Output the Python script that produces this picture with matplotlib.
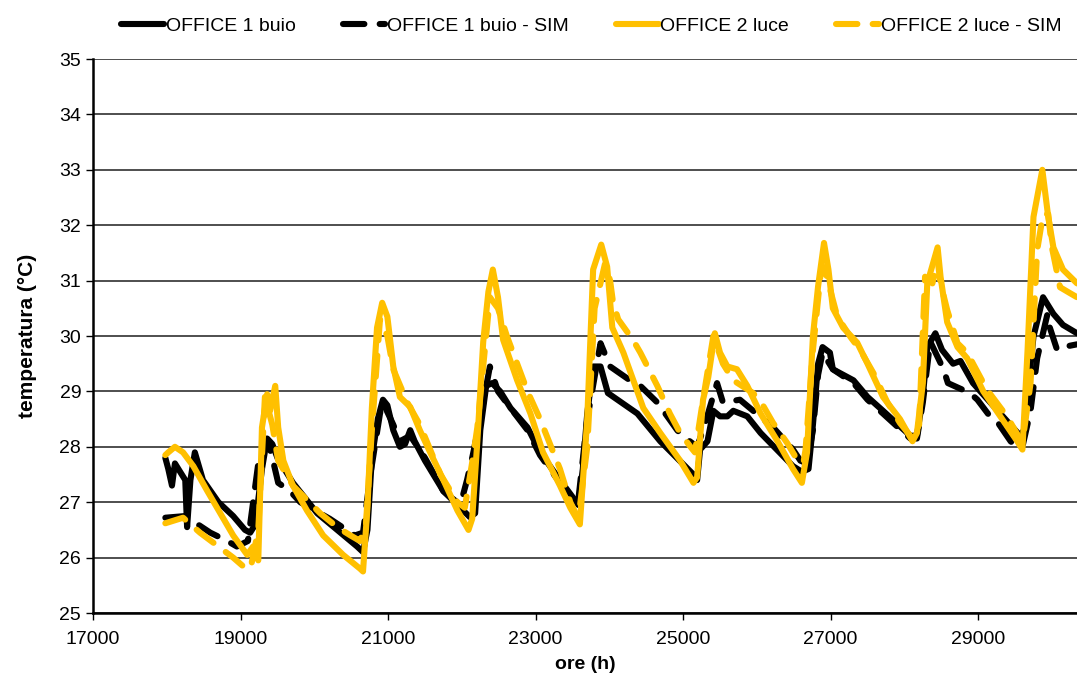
import matplotlib
matplotlib.use('Agg')
import matplotlib.pyplot as plt

plt.rcParams['font.family'] = ['Liberation Sans Narrow', 'Liberation Sans', 'DejaVu Sans']

# OFFICE 1 buio (misurato)
off1_x = [17980, 18020, 18070, 18110, 18180, 18250, 18275, 18320, 18380, 18490, 18700, 18900,
          19060, 19130, 19200, 19290, 19360, 19430, 19500, 19710, 20040, 20310, 20580, 20660,
          20720, 20780, 20860, 20930, 20990, 21070, 21160, 21230, 21300, 21360, 21500, 21750,
          21980, 22110, 22180, 22250, 22330, 22410, 22520, 22660, 22890, 23060, 23330, 23470,
          23580, 23640, 23700, 23780, 23880, 23980, 24380, 24690, 25140, 25190, 25230, 25330,
          25410, 25500, 25600, 25680, 25870, 26050, 26490, 26610, 26700, 26760, 26830, 26890,
          26990, 27030, 27310, 27500, 27710, 28080, 28170, 28250, 28310, 28420, 28510, 28660,
          28760, 28930, 29300, 29570, 29620, 29750, 29880, 30020, 30150, 30340]
off1_y = [27.8, 27.6, 27.3, 27.7, 27.55, 27.4, 26.55, 27.4, 27.9, 27.4, 27.0, 26.75,
          26.5, 26.45, 26.6, 27.6, 28.15, 28.05, 27.8, 27.35, 26.8, 26.5, 26.2, 26.1,
          26.5, 27.8, 28.5, 28.85, 28.75, 28.3, 28.0, 28.05, 28.3, 28.1, 27.75, 27.2,
          26.9, 26.73, 26.8, 28.3, 29.1, 29.15, 29.0, 28.7, 28.35, 27.9, 27.4, 27.15,
          26.95, 27.6, 28.6, 29.45, 29.45, 28.97, 28.6, 28.1, 27.5, 27.4, 27.95, 28.1,
          28.65, 28.55, 28.55, 28.65, 28.55, 28.25, 27.65, 27.55, 27.6, 28.4, 29.5, 29.8,
          29.7, 29.4, 29.2, 28.9, 28.65, 28.2, 28.2, 28.9, 29.8, 30.05, 29.75, 29.5,
          29.55, 29.15, 28.6, 28.2, 28.3, 29.99, 30.7, 30.4, 30.2, 30.05]

# OFFICE 1 buio - SIM
off1_sim_x = [17980, 18250, 18420, 18590, 18820, 18950, 19100, 19240, 19370, 19440, 19510, 19670,
              19810, 20210, 20550, 20660, 20760, 20890, 20930, 21070, 21160, 21300, 21500, 21750,
              21980, 22070, 22140, 22250, 22380, 22490, 22660, 22890, 23060, 23330, 23470, 23580,
              23700, 23880, 24010, 24280, 24420, 24650, 24920, 24990, 25190, 25270, 25460, 25540,
              25770, 26220, 26490, 26590, 26680, 26760, 26830, 26890, 27030, 27310, 27500, 27710,
              28080, 28170, 28250, 28350, 28530, 28590, 28890, 28990, 29160, 29260, 29440, 29480,
              29600, 29710, 29800, 29940, 29960, 30070, 30150, 30340]
off1_sim_y = [26.72, 26.75, 26.6, 26.45, 26.3, 26.2, 26.3, 27.7, 28.1, 27.75, 27.35, 27.2,
              27.0, 26.7, 26.4, 26.45, 27.5, 28.6, 28.8, 28.4, 28.1, 28.2, 27.8, 27.2,
              26.95, 27.4, 27.8, 28.5, 29.45, 29.0, 28.7, 28.3, 27.85, 27.35, 27.1, 27.05,
              28.5, 29.87, 29.45, 29.2, 29.1, 28.8, 28.3, 28.2, 28.0, 28.3, 29.15, 28.8,
              28.85, 28.35, 27.95, 27.75, 27.7, 28.3, 29.3, 29.7, 29.4, 29.15, 28.85, 28.6,
              28.15, 28.15, 28.8, 29.9, 29.4, 29.15, 28.97, 28.85, 28.55, 28.45, 28.1, 28.05,
              28.0, 28.65, 29.6, 30.4, 30.2, 29.75, 29.8, 29.85]

# OFFICE 2 luce (misurato)
off2_x = [17980, 18020, 18110, 18220, 18360, 18550, 18900, 19090, 19170, 19240, 19290, 19360,
          19400, 19470, 19510, 19580, 19710, 19900, 20120, 20390, 20620, 20660, 20720, 20780,
          20850, 20920, 20990, 21070, 21160, 21300, 21430, 21570, 21750, 21940, 22090, 22140,
          22210, 22290, 22360, 22420, 22490, 22560, 22750, 22930, 23100, 23330, 23470, 23600,
          23700, 23780, 23890, 23970, 24040, 24190, 24460, 24690, 24960, 25140, 25190, 25270,
          25340, 25430, 25500, 25600, 25730, 25870, 26050, 26280, 26490, 26610, 26680, 26760,
          26830, 26910, 26970, 27030, 27170, 27360, 27500, 27710, 27940, 28110, 28170, 28250,
          28310, 28450, 28490, 28580, 28720, 28850, 29070, 29300, 29530, 29600, 29670, 29750,
          29870, 29950, 30020, 30150, 30340]
off2_y = [27.85, 27.9, 28.0, 27.9, 27.65, 27.2, 26.4, 26.05, 26.2, 25.95, 28.35, 28.95,
          28.65, 29.1, 28.35, 27.75, 27.3, 26.85, 26.4, 26.05, 25.8, 25.75, 26.9, 28.7,
          30.15, 30.6, 30.35, 29.45, 28.9, 28.72, 28.3, 27.9, 27.4, 26.85, 26.5, 26.7,
          28.1, 29.9, 30.8, 31.2, 30.7, 29.93, 29.2, 28.6, 27.9, 27.3, 26.9, 26.6,
          28.5, 31.2, 31.65, 31.25, 30.15, 29.7, 28.7, 28.25, 27.75, 27.35, 27.45, 28.85,
          29.25, 30.05, 29.7, 29.45, 29.4, 29.1, 28.6, 28.1, 27.6, 27.35, 27.9, 30.0,
          30.9, 31.68, 31.2, 30.5, 30.15, 29.88, 29.5, 28.9, 28.5, 28.1, 28.25, 29.15,
          30.95, 31.6, 31.07, 30.25, 29.8, 29.6, 29.0, 28.55, 28.1, 27.95, 29.75, 32.15,
          33.0, 32.15, 31.6, 31.2, 30.95]

# OFFICE 2 luce - SIM
off2_sim_x = [17980, 18220, 18450, 18650, 18900, 19090, 19150, 19240, 19330, 19430, 19510, 19710,
              20080, 20310, 20490, 20620, 20700, 20780, 20890, 20990, 21070, 21260, 21430, 21710,
              21940, 22040, 22150, 22210, 22380, 22490, 22610, 22890, 23060, 23330, 23470, 23580,
              23700, 23800, 23940, 24010, 24050, 24120, 24320, 24420, 24650, 24820, 24960, 25100,
              25160, 25270, 25410, 25540, 25680, 25950, 26090, 26220, 26410, 26550, 26630, 26660,
              26760, 26860, 26900, 26950, 27020, 27090, 27270, 27400, 27580, 27770, 27940, 28110,
              28200, 28280, 28380, 28450, 28490, 28580, 28720, 28850, 29120, 29390, 29600, 29710,
              29800, 29880, 29950, 30000, 30110, 30250, 30340]
off2_sim_y = [26.62, 26.72, 26.45, 26.25, 26.0, 25.78, 25.9, 26.5, 28.9, 28.4, 27.75, 27.3,
              26.8, 26.55, 26.4, 26.3, 26.6, 28.3, 30.3, 30.0, 29.4, 28.8, 28.4, 27.5,
              27.0, 26.9, 27.8, 28.35, 30.7, 30.5, 30.0, 29.0, 28.5, 27.6, 27.0, 26.7,
              28.0, 30.5, 31.3, 31.0, 30.6, 30.3, 29.93, 29.7, 29.1, 28.6, 28.25, 28.0,
              27.9, 28.85, 30.0, 29.5, 29.2, 28.97, 28.73, 28.43, 28.07, 27.76, 27.7, 27.95,
              29.75, 31.07, 31.25, 31.07, 30.7, 30.35, 29.98, 29.75, 29.33, 28.8, 28.43, 28.15,
              28.4, 31.07, 30.95, 31.37, 30.95, 30.47, 29.87, 29.7, 29.03, 28.55, 28.07, 29.15,
              31.55, 32.2, 32.2, 31.6, 30.88, 30.77, 30.7]

gold = '#FFC000'

fig = plt.figure(figsize=(10.77, 6.84), dpi=100)
ax = fig.add_axes([0.0864, 0.1038, 0.9136, 0.8099])

# round caps/joins like the Excel original
style = dict(lw=4.4, solid_capstyle='round', solid_joinstyle='round',
             dash_capstyle='round', dash_joinstyle='round')
ax.plot(off1_x, off1_y, color='black', label='OFFICE 1 buio', **style)
ax.plot(off1_sim_x, off1_sim_y, color='black', dashes=(3.5, 2.5), label='OFFICE 1 buio - SIM', **style)
ax.plot(off2_x, off2_y, color=gold, label='OFFICE 2 luce', **style)
ax.plot(off2_sim_x, off2_sim_y, color=gold, dashes=(3.5, 2.5), label='OFFICE 2 luce - SIM', **style)

ax.set_xlim(17000, 30340)
ax.set_ylim(25, 35)
ax.set_xticks(range(17000, 30001, 2000))
ax.set_yticks(range(25, 36))
ax.grid(axis='y', color='#404040', lw=1.3)
ax.set_axisbelow(True)
for s in ['top', 'right']:
    ax.spines[s].set_visible(False)
ax.spines['left'].set_linewidth(1.8)
ax.spines['bottom'].set_linewidth(1.8)
ax.tick_params(axis='both', labelsize=14, width=1, length=5, direction='out')
ax.tick_params(axis='x', pad=8)

ax.set_xlabel('ore (h)', fontsize=14, fontweight='bold', labelpad=6)
ax.set_ylabel('temperatura (°C)', fontsize=15, fontweight='bold', labelpad=16)

fig.legend(loc='upper center', bbox_to_anchor=(0.549, 1.0), ncol=4, frameon=False,
           fontsize=14, handlelength=2.2, columnspacing=2.4, handletextpad=0.1)

fig.savefig('out.png', dpi=100)
